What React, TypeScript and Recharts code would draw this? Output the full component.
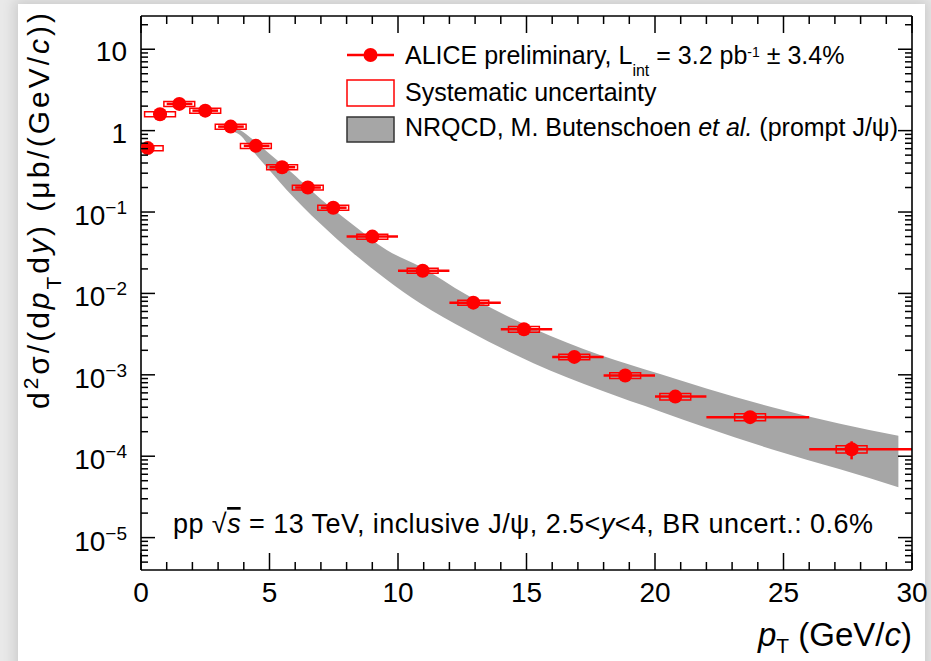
import React from "react";
import {
  ComposedChart,
  Area,
  Scatter,
  ErrorBar,
  XAxis,
  YAxis,
  ReferenceArea,
} from "recharts";

// ALICE J/psi, pp 13 TeV, 2.5<y<4
const ptMean = [0.26, 0.74, 1.49, 2.5, 3.49, 4.47, 5.49, 6.49, 7.48, 9.0, 10.96, 12.93, 14.9, 16.86, 18.84, 20.79, 23.7, 27.65];
const binLow = [0, 0.5, 1, 2, 3, 4, 5, 6, 7, 8, 10, 12, 14, 16, 18, 20, 22, 26];
const binHigh = [0.5, 1, 2, 3, 4, 5, 6, 7, 8, 10, 12, 14, 16, 18, 20, 22, 26, 30];
const crossSection = [0.61, 1.59, 2.13, 1.76, 1.12, 0.65, 0.355, 0.2, 0.113, 0.0499, 0.019, 0.0077, 0.00363, 0.00166, 0.00098, 0.00054, 0.000302, 0.000122];
const statRel = [0.02, 0.015, 0.012, 0.012, 0.013, 0.015, 0.018, 0.022, 0.028, 0.03, 0.04, 0.05, 0.06, 0.07, 0.08, 0.09, 0.12, 0.25];
const systRel = [0.07, 0.07, 0.07, 0.07, 0.07, 0.07, 0.07, 0.07, 0.07, 0.07, 0.07, 0.07, 0.08, 0.08, 0.08, 0.09, 0.1, 0.1];
const SYST_HALF_WIDTH = 0.6;

// NRQCD band (prompt J/psi)
const nrqcdPt = [3.5, 3.85, 4.37, 5.0, 5.67, 6.96, 8.26, 9.56, 10.86, 12.67, 15.27, 17.86, 20.2, 22.0, 24.6, 27.2, 29.47];
const nrqcdLow = [1.0, 0.885, 0.552, 0.327, 0.187, 0.0728, 0.0312, 0.0147, 0.00758, 0.00356, 0.00139, 0.00065, 0.000355, 0.000224, 0.00012, 0.000069, 0.0000417];
const nrqcdHigh = [1.12, 1.02, 0.77, 0.52, 0.345, 0.148, 0.0695, 0.0342, 0.0214, 0.0096, 0.00372, 0.00175, 0.00102, 0.00068, 0.000398, 0.000251, 0.000178];

const xTicks = [0, 1, 2, 3, 4, 5, 6, 7, 8, 9, 10, 11, 12, 13, 14, 15, 16, 17, 18, 19, 20, 21, 22, 23, 24, 25, 26, 27, 28, 29, 30];
const yDomain: [number, number] = [4e-6, 25.6];
const yTicks: number[] = [];
for (let e = -6; e <= 1; e++) {
  for (let m = 1; m <= 9; m++) {
    const v = m * Math.pow(10, e);
    if (v > 4.5e-6 && v < yDomain[1]) yTicks.push(v);
  }
}

const points = ptMean.map((x, i) => ({
  x,
  y: crossSection[i],
  xErr: [x - binLow[i], binHigh[i] - x],
  yErr: crossSection[i] * statRel[i],
  sysLo: crossSection[i] * (1 - systRel[i]),
  sysHi: crossSection[i] * (1 + systRel[i]),
}));

const band = nrqcdPt.map((x, i) => ({ x, range: [nrqcdLow[i], nrqcdHigh[i]] }));

const FONT = '"Liberation Sans", Arial, Helvetica, sans-serif';
const RED = "#ff0000";
const AX = "#000";

const isMajorLog = (v: number) => {
  const l = Math.log10(v);
  return Math.abs(l - Math.round(l)) < 1e-6;
};

function BottomTick(props: any) {
  const { x, y, payload } = props;
  const v = payload.value;
  const major = v % 5 === 0;
  return (
    <g>
      <line x1={x} x2={x} y1={y} y2={y - (major ? 17 : 8)} stroke={AX} strokeWidth={1.5} />
      {major && (
        <text x={x} y={y + 32} textAnchor="middle" fontSize={28} fill="#000" fontFamily={FONT}>
          {v}
        </text>
      )}
    </g>
  );
}

function TopTick(props: any) {
  const { x, y, payload } = props;
  const major = payload.value % 5 === 0;
  return <line x1={x} x2={x} y1={y} y2={y + (major ? 17 : 8)} stroke={AX} strokeWidth={1.5} />;
}

function LeftTick(props: any) {
  const { x, y, payload } = props;
  const v = payload.value;
  const major = isMajorLog(v);
  const e = Math.round(Math.log10(v));
  let label: React.ReactNode = null;
  if (major) {
    label =
      e === 1 || e === 0 ? (
        <text x={x - 14} y={y + 12} textAnchor="end" fontSize={28} fill="#000" fontFamily={FONT}>
          {e === 1 ? "10" : "1"}
        </text>
      ) : (
        <text x={x - 14} y={y + 13} textAnchor="end" fontSize={28} fill="#000" fontFamily={FONT}>
          10
          <tspan dy={-11} fontSize={19}>
            {"\u2212" + String(-e)}
          </tspan>
        </text>
      );
  }
  return (
    <g>
      <line x1={x} x2={x + (major ? 14 : 7)} y1={y} y2={y} stroke={AX} strokeWidth={1.5} />
      {label}
    </g>
  );
}

function RightTick(props: any) {
  const { x, y, payload } = props;
  const major = isMajorLog(payload.value);
  return <line x1={x} x2={x - (major ? 14 : 7)} y1={y} y2={y} stroke={AX} strokeWidth={1.5} />;
}

function Dot(props: any) {
  const { cx, cy } = props;
  if (cx == null || cy == null) return null;
  return <circle cx={cx} cy={cy} r={7} fill={RED} />;
}

export default function App() {
  const axisLine = { stroke: AX, strokeWidth: 1.6 };
  return (
    <div style={{ position: "relative", width: 931, height: 661, overflow: "hidden", background: "#e9e9e9", fontFamily: FONT }}>
      <style>{`body{margin:0}`}</style>
      <div
        style={{
          position: "absolute",
          left: 18,
          top: 4,
          width: 907,
          height: 720,
          background: "#fff",
          boxShadow: "0 0 12px 4px rgba(0,0,0,0.12)",
        }}
      />
      <div style={{ position: "absolute", left: 0, top: 0 }}>
        <ComposedChart width={931} height={661} margin={{ top: 15, right: 18, bottom: 90, left: 140 }}>
          <XAxis
            dataKey="x"
            type="number"
            domain={[0, 30]}
            allowDataOverflow
            ticks={xTicks}
            interval={0}
            tick={<BottomTick />}
            tickLine={false}
            tickSize={0}
            tickMargin={0}
            height={1}
            axisLine={axisLine}
          />
          <XAxis
            xAxisId="top"
            orientation="top"
            dataKey="x"
            type="number"
            domain={[0, 30]}
            allowDataOverflow
            ticks={xTicks}
            interval={0}
            tick={<TopTick />}
            tickLine={false}
            tickSize={0}
            tickMargin={0}
            height={1}
            axisLine={axisLine}
          />
          <YAxis
            type="number"
            scale="log"
            domain={yDomain}
            allowDataOverflow
            ticks={yTicks}
            interval={0}
            tick={<LeftTick />}
            tickLine={false}
            tickSize={0}
            tickMargin={0}
            width={1}
            axisLine={axisLine}
          />
          <YAxis
            yAxisId="right"
            orientation="right"
            type="number"
            scale="log"
            domain={yDomain}
            allowDataOverflow
            ticks={yTicks}
            interval={0}
            tick={<RightTick />}
            tickLine={false}
            tickSize={0}
            tickMargin={0}
            width={1}
            axisLine={axisLine}
          />
          <Area
            data={band}
            dataKey="range"
            type="monotone"
            fill="#a6a6a6"
            fillOpacity={1}
            stroke="none"
            isAnimationActive={false}
          />
          {points.map((p, i) => (
            <ReferenceArea
              key={i}
              x1={p.x - SYST_HALF_WIDTH}
              x2={p.x + SYST_HALF_WIDTH}
              y1={p.sysLo}
              y2={p.sysHi}
              fill="none"
              stroke={RED}
              strokeWidth={1.5}
              ifOverflow="hidden"
            />
          ))}
          <Scatter data={points} dataKey="y" fill={RED} shape={<Dot />} isAnimationActive={false}>
            <ErrorBar dataKey="xErr" direction="x" width={0} stroke={RED} strokeWidth={2.5} />
            <ErrorBar dataKey="yErr" direction="y" width={0} stroke={RED} strokeWidth={2.5} />
          </Scatter>
        </ComposedChart>
      </div>
      <svg
        width={931}
        height={661}
        style={{ position: "absolute", left: 0, top: 0, pointerEvents: "none" }}
        fontFamily={FONT}
      >
        {/* legend */}
        <line x1={347} x2={394} y1={55} y2={55} stroke={RED} strokeWidth={2.5} />
        <circle cx={370.5} cy={55} r={7} fill={RED} />
        <text x={405} y={63.5} fontSize={25} fill="#000">
          ALICE preliminary, L
          <tspan dy={12} fontSize={16}>int</tspan>
          <tspan dy={-12}>{" = 3.2 pb"}</tspan>
          <tspan dy={-7} fontSize={14}>-1</tspan>
          <tspan dy={7}>{" \u00b1 3.4%"}</tspan>
        </text>
        <rect x={347} y={80} width={47} height={26} fill="#fff" stroke={RED} strokeWidth={1.5} />
        <text x={405} y={101} fontSize={25} fill="#000">
          Systematic uncertainty
        </text>
        <rect x={347} y={117} width={47} height={25} fill="#a6a6a6" stroke="#333" strokeWidth={1.5} />
        <text x={405} y={136} fontSize={25} fill="#000">
          {"NRQCD, M. Butenschoen "}
          <tspan fontStyle="italic">et al.</tspan>
          {" (prompt J/\u03c8)"}
        </text>

        {/* system annotation */}
        <text x={173} y={533} fontSize={27} fill="#000" textLength={700} lengthAdjust="spacing">
          {"pp  \u221a"}
          <tspan fontStyle="italic" textDecoration="overline">s</tspan>
          {" = 13 TeV, inclusive J/\u03c8, 2.5<"}
          <tspan fontStyle="italic">y</tspan>
          {"<4, BR uncert.: 0.6%"}
        </text>

        {/* y title */}
        <text
          transform="translate(49,13) rotate(-90)"
          textAnchor="end"
          fontSize={30}
          fill="#000"
          textLength={396}
          lengthAdjust="spacing"
        >
          d
          <tspan dy={-11} fontSize={21}>2</tspan>
          <tspan dy={11}>{"\u03c3/(d"}</tspan>
          <tspan fontStyle="italic">p</tspan>
          <tspan dy={12} fontSize={21}>T</tspan>
          <tspan dy={-12}>d</tspan>
          <tspan fontStyle="italic">y</tspan>
          {") (\u03bcb/(GeV/"}
          <tspan fontStyle="italic">c</tspan>
          {"))"}
        </text>

        {/* x title */}
        <text x={912} y={646} textAnchor="end" fontSize={33} fill="#000">
          <tspan fontStyle="italic">p</tspan>
          <tspan dy={7} fontSize={21}>T</tspan>
          <tspan dy={-7}>{" (GeV/"}</tspan>
          <tspan fontStyle="italic">c</tspan>
          {")"}
        </text>
      </svg>
    </div>
  );
}
